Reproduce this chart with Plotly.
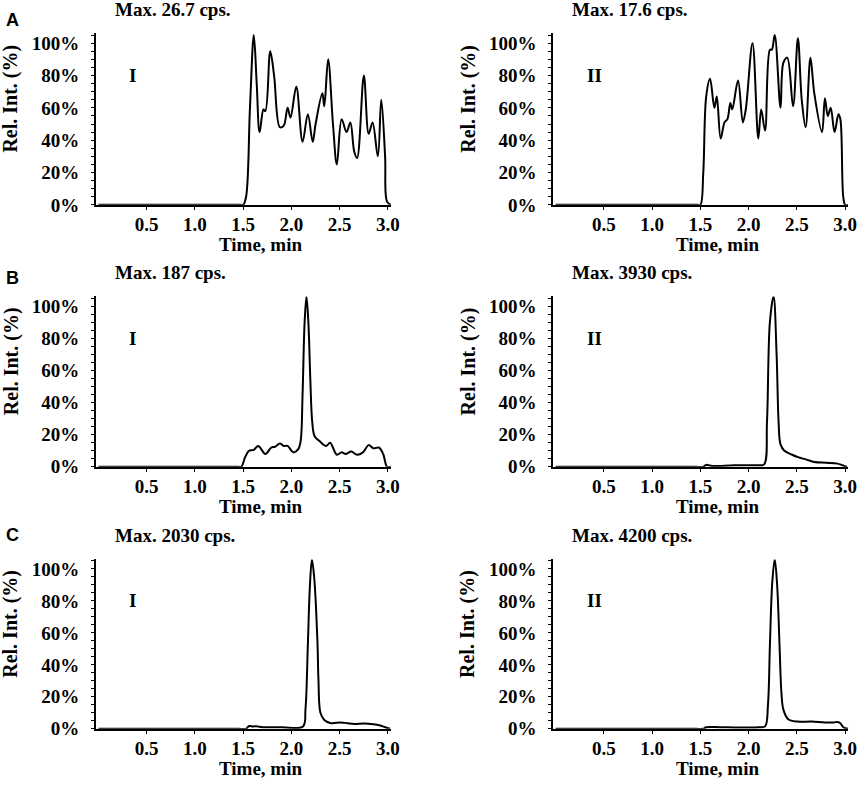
import plotly.graph_objects as go
from plotly.subplots import make_subplots

# Relative intensity traces (time in min, intensity in %)
time_a1 = [0, 0.5, 1.0, 1.40, 1.47, 1.50, 1.53, 1.57, 1.61, 1.64, 1.67, 1.71, 1.73, 1.78, 1.82, 1.88,
           1.92, 1.96, 1.99, 2.05, 2.115, 2.17, 2.22, 2.25, 2.32, 2.34, 2.38, 2.43, 2.47, 2.52, 2.57,
           2.61, 2.65, 2.68, 2.75, 2.80, 2.84, 2.895, 2.93, 2.97, 2.99, 3.03]
int_a1 = [0, 0, 0, 0, 0, 0, 5, 60, 105, 75, 45, 59, 58, 95, 80, 48,
          49, 60, 54, 73, 39, 56, 39, 50, 69, 61, 90, 50, 25, 53, 45,
          51, 33, 29, 80, 44, 51, 30, 65, 30, 2, 0]

time_a2 = [0, 0.5, 1.0, 1.40, 1.47, 1.50, 1.53, 1.56, 1.60, 1.645, 1.67, 1.71, 1.75, 1.78, 1.81, 1.83,
           1.89, 1.94, 1.97, 2.04, 2.10, 2.13, 2.17, 2.22, 2.24, 2.27, 2.33, 2.36, 2.40, 2.46, 2.51,
           2.55, 2.59, 2.64, 2.68, 2.76, 2.79, 2.82, 2.85, 2.89, 2.93, 2.95, 2.98, 3.0, 3.03]
int_a2 = [0, 0, 0, 0, 0, 0, 20, 67, 78, 60, 67, 41, 51, 53, 63, 59,
          77, 51, 59, 100, 41, 59, 46, 96, 96, 105, 60, 88, 91, 61, 103,
          65, 48, 91, 69, 45, 66, 55, 60, 45, 56, 53, 5, 0, 0]

time_b1 = [0, 0.5, 1.0, 1.40, 1.45, 1.48, 1.52, 1.56, 1.61, 1.656, 1.73, 1.79, 1.83, 1.88, 1.92, 1.96,
           2.02, 2.07, 2.095, 2.115, 2.135, 2.155, 2.175, 2.195, 2.215, 2.24, 2.29, 2.36, 2.40, 2.47,
           2.52, 2.56, 2.62, 2.68, 2.74, 2.80, 2.85, 2.905, 2.95, 2.99, 3.03]
int_b1 = [0, 0, 0, 0, 0, 0, 6, 10, 10.6, 13, 8, 12, 12.5, 14.5, 13, 13,
          9, 11, 16, 45, 88, 106, 90, 55, 28, 19, 16, 13, 15, 7.5,
          9, 8, 9.5, 7.5, 9, 13.5, 11.5, 12, 8, 0, 0]

time_b2 = [0, 0.5, 1.0, 1.45, 1.53, 1.56, 1.60, 1.65, 1.85, 2.10, 2.16, 2.19, 2.22, 2.258, 2.29, 2.31,
           2.33, 2.37, 2.45, 2.51, 2.60, 2.68, 2.80, 2.92, 2.97, 3.02]
int_b2 = [0, 0, 0, 0, 0, 1.2, 0.8, 0.5, 1.0, 1.0, 1.5, 28, 90, 106, 69, 28,
          14, 10, 7.5, 6, 4.5, 3, 2.5, 2, 1, 0]

time_c1 = [0, 0.5, 1.0, 1.45, 1.53, 1.56, 1.60, 1.65, 1.70, 1.90, 2.12, 2.145, 2.17, 2.19, 2.212,
           2.235, 2.255, 2.27, 2.28, 2.30, 2.34, 2.41, 2.51, 2.58, 2.65, 2.75, 2.85, 2.92, 2.97, 3.02]
int_c1 = [0, 0, 0, 0, 0, 1.7, 1.5, 1.5, 1.0, 1.0, 1.5, 12, 53, 88, 106,
          95, 75, 53, 30, 10, 5.5, 3.5, 4, 3.5, 3, 3.3, 2.8, 2, 1, 0]

time_c2 = [0, 0.5, 1.0, 1.45, 1.53, 1.56, 1.70, 1.90, 2.10, 2.17, 2.20, 2.22, 2.245, 2.27, 2.295, 2.32,
           2.34, 2.36, 2.41, 2.51, 2.65, 2.79, 2.88, 2.92, 2.95, 2.98, 3.03]
int_c2 = [0, 0, 0, 0, 0, 1, 1, 0.8, 1, 1.5, 15, 52, 92, 106, 90, 52,
          22, 12, 6, 4.5, 4.5, 4, 4, 4.3, 3.5, 1, 0]

max_labels = ["Max. 26.7 cps.", "Max. 17.6 cps.", "Max. 187 cps.",
              "Max. 3930 cps.", "Max. 2030 cps.", "Max. 4200 cps."]
panel_letters = ["A", "B", "C"]
series_labels = ["I", "II"]

x_ticks = [0.5, 1.0, 1.5, 2.0, 2.5, 3.0]
y_ticks = [0, 20, 40, 60, 80, 100]

traces = [(time_a1, int_a1), (time_a2, int_a2),
          (time_b1, int_b1), (time_b2, int_b2),
          (time_c1, int_c1), (time_c2, int_c2)]

W, H = 865, 791
serif = "Liberation Serif"

fig = make_subplots(rows=3, cols=2)

# panel positions in pixels
col_px = [(97, 395), (559, 857)]
row_px = [(33, 207), (300, 473), (567, 739)]

for k, (t, v) in enumerate(traces):
    r, c = k // 2 + 1, k % 2 + 1
    fig.add_trace(go.Scatter(x=t, y=v, mode="lines",
                             line=dict(color="black", width=2, shape="spline", smoothing=1.0),
                             showlegend=False, hoverinfo="x+y"), row=r, col=c)
    x0, x1 = col_px[c - 1]
    y0, y1 = row_px[r - 1]
    fig.update_xaxes(domain=[x0 / W, x1 / W], range=[-0.025, 3.03], row=r, col=c)
    fig.update_yaxes(domain=[1 - y1 / H, 1 - y0 / H], range=[0, 106], row=r, col=c)

    n = "" if k == 0 else str(k + 1)
    xref, yref = "x" + n + " domain", "y" + n + " domain"
    # Max. cps. title
    fig.add_annotation(text="<b>" + max_labels[k] + "</b>", xref=xref, yref=yref, x=0.057, y=1,
                       xanchor="left", yanchor="middle", yshift=24, showarrow=False,
                       font=dict(family=serif, size=19, color="black"))
    # I / II label
    fig.add_annotation(text="<b>" + series_labels[c - 1] + "</b>", xref="x" + n, yref="y" + n,
                       x=0.3, y=80, xanchor="left", yanchor="middle", showarrow=False,
                       font=dict(family=serif, size=19, color="black"))
    # y title
    fig.add_annotation(text="<b>Rel. Int. (%)</b>", xref=xref, yref=yref, x=0, y=0.62,
                       xshift=-85, textangle=-90, showarrow=False, xanchor="center", yanchor="middle",
                       font=dict(family=serif, size=20, color="black"))
    # x title
    fig.add_annotation(text="<b>Time, min</b>", xref=xref, yref=yref, x=0.557, y=0,
                       yshift=-40, showarrow=False, xanchor="center", yanchor="middle",
                       font=dict(family=serif, size=19, color="black"))

for i, letter in enumerate(panel_letters):
    fig.add_annotation(text="<b>" + letter + "</b>", xref="paper", yref="paper",
                       x=13 / W, y=1 - [19, 281, 542][i] / H, xanchor="center", yanchor="middle",
                       showarrow=False, font=dict(family="Liberation Sans", size=18, color="black"))

fig.update_xaxes(showline=True, linecolor="black", linewidth=2, showgrid=False, zeroline=False,
                 ticks="outside", ticklen=3, tickwidth=1, tickcolor="black",
                 tickvals=x_ticks, ticktext=["<b>%.1f</b>" % v for v in x_ticks],
                 ticklabelstandoff=-2,
                 tickfont=dict(family=serif, size=19, color="black"))
fig.update_yaxes(showline=True, linecolor="black", linewidth=2, showgrid=False, zeroline=False,
                 ticks="outside", ticklen=3, tickwidth=1, tickcolor="black",
                 tickvals=y_ticks, ticktext=["<b>%d%%</b>" % v for v in y_ticks],
                 ticklabelstandoff=8,
                 minor=dict(dtick=5, ticks="outside", ticklen=3, tickcolor="black", showgrid=False),
                 tickfont=dict(family=serif, size=19, color="black"))

fig.update_layout(width=W, height=H, margin=dict(l=0, r=0, t=0, b=0),
                  plot_bgcolor="white", paper_bgcolor="white")

# page body margin would push the figure off the window
fig.write_html("out.html", config={"displayModeBar": False},
               post_script="document.body.style.margin='0';")
